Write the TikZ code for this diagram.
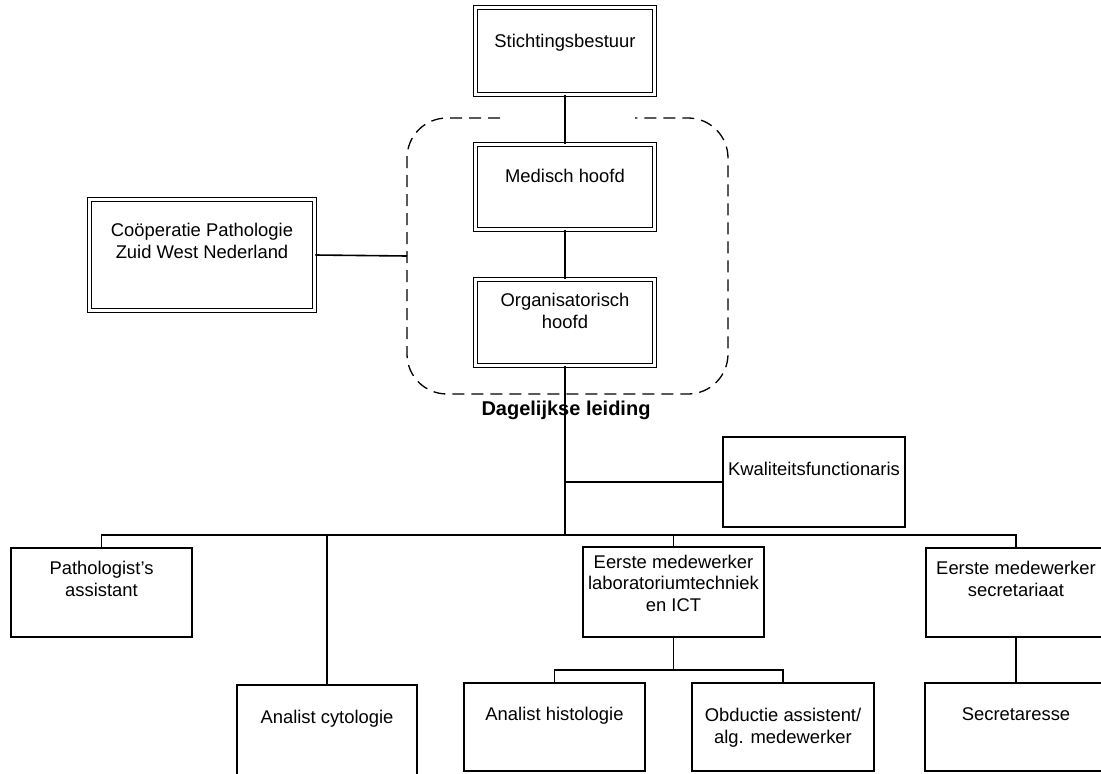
\documentclass[tikz,border=0pt]{standalone}
\usepackage{fontspec}
\setmainfont{Liberation Sans}
\begin{document}
\begin{tikzpicture}[x=1pt,y=-1pt,
  dbox/.style={draw, line width=1.6pt, double, double distance=2.2pt, inner sep=0pt, minimum width=#1},
  dbox/.default=179pt,
  pbox/.style={draw, line width=1.6pt, inner sep=0pt},
  lbl/.style={anchor=base, inner sep=0pt, align=center, font=\fontsize{18.4}{21.5}\selectfont},
  conn/.style={line width=1.6pt},
  trunk/.style={line width=2pt}
]
\useasboundingbox (0,0) rectangle (1101,774);
\clip (0,0) rectangle (1101,774);

% top double boxes
\node[dbox, minimum height=87pt] (S) at (565,51) {};
\node[dbox, minimum height=85pt] (M) at (565,187) {};
\node[dbox, minimum height=86pt] (O) at (565,322.5) {};
\node[dbox=225pt, minimum height=111pt] (C) at (202,255) {};

\node[lbl] (tS) at (565,47) {Stichtingsbestuur};
\node[lbl] (tM) at (565,182) {Medisch hoofd};
\node[lbl] (tO) at (565,328) {Organisatorisch\\hoofd};
\node[lbl] (tC) at (202,258) {Coöperatie Pathologie\\Zuid West Nederland};

% dashed group
\draw[line width=1.3pt, dash pattern=on 12pt off 7pt, rounded corners=40pt]
  (500,118) -| (407,394) -| (728,118) -- (635,118);
\coordinate (G) at (407,256);
\node[anchor=base, inner sep=0pt, font=\fontsize{20}{24}\selectfont\bfseries] (tG) at (566,415) {Dagelijkse leiding};

% plain boxes
\node[pbox, minimum width=182.5pt, minimum height=90.5pt] (K) at (814,482) {};
\node[pbox, minimum width=181.5pt, minimum height=89.5pt] (P) at (101.5,592.5) {};
\node[pbox, minimum width=180.5pt, minimum height=114.5pt] (AC) at (327,742) {};
\node[pbox, minimum width=181.5pt, minimum height=90.5pt] (E) at (673.5,592) {};
\node[pbox, minimum width=181.5pt, minimum height=88.5pt] (AH) at (554.5,727) {};
\node[pbox, minimum width=182.5pt, minimum height=88.5pt] (OB) at (783,727) {};
\node[pbox, minimum width=180.5pt, minimum height=89.5pt] (ES) at (1016,592.5) {};
\node[pbox, minimum width=182.5pt, minimum height=88.5pt] (SE) at (1016,727) {};

\node[lbl] (tK) at (814,475) {Kwaliteitsfunctionaris};
\node[lbl] (tP) at (101.5,596) {Pathologist’s\\assistant};
\node[lbl] (tAC) at (327,723) {Analist cytologie};
\node[lbl] (tE) at (673.5,611) {Eerste medewerker\\laboratoriumtechniek\\en ICT};
\node[lbl] (tAH) at (554.5,720) {Analist histologie};
\node[lbl] (tOB) at (783,743) {Obductie assistent/\\alg. medewerker};
\node[lbl] (tES) at (1016,596) {Eerste medewerker\\secretariaat};
\node[lbl] (tSE) at (1016,720) {Secretaresse};

% bus coordinates
\coordinate (bus) at (565,535);
\coordinate (kj) at (565,482);
\coordinate (sub) at (673.5,670);

% connectors
\draw[conn] (S.south) -- (M.north);
\draw[conn] (M.south) -- (O.north);
\draw[conn] (C.east) -- (G);
\draw[trunk] (O.south) -- (bus);
\draw[conn] (kj) -- (K.west);
\draw[conn] (bus) -| (P.north);
\draw[conn] (bus) -| (AC.north);
\draw[conn] (bus) -| (E.north);
\draw[conn] (bus) -| (ES.north);
\draw[conn] (E.south) -- (sub);
\draw[conn] (sub) -| (AH.north);
\draw[conn] (sub) -| (OB.north);
\draw[conn] (ES.south) -- (SE.north);
\end{tikzpicture}
\end{document}
